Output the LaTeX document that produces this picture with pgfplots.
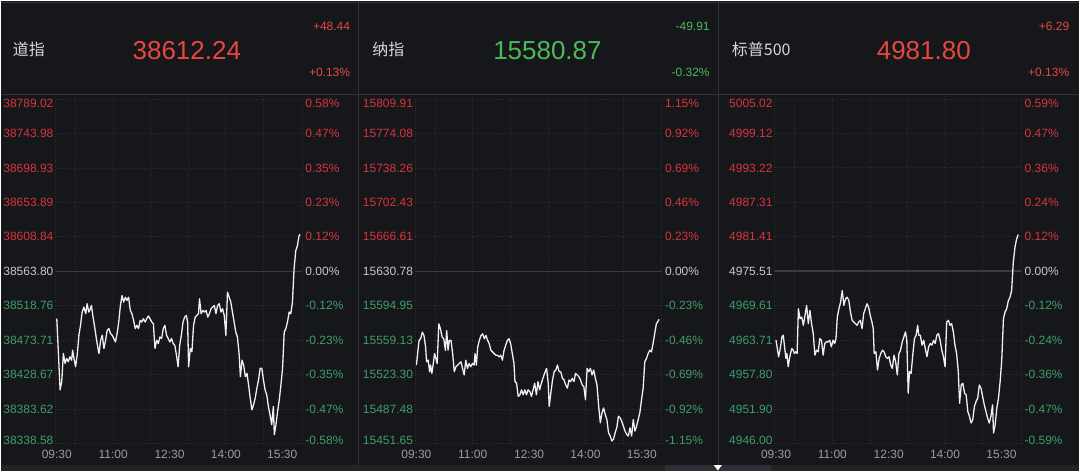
\documentclass[border=0pt]{standalone}
\usepackage{pgfplots}
\pgfplotsset{compat=1.18}
\usepackage{pgfplotstable}
\usepackage{fontspec}
\setmainfont{Liberation Sans}
\newfontfamily\cjk{Noto Sans CJK SC}

\definecolor{bg}{HTML}{16171B}
\definecolor{strip}{HTML}{222327}
\definecolor{stripblk}{HTML}{2E2F34}
\definecolor{sep}{HTML}{33343A}
\definecolor{gridc}{HTML}{2E2F35}
\definecolor{basec}{HTML}{3C3D42}
\definecolor{bigred}{HTML}{E8473F}
\definecolor{biggreen}{HTML}{4DBA5A}
\definecolor{tred}{HTML}{D8333F}
\definecolor{tgreen}{HTML}{3E9E68}
\definecolor{zlab}{HTML}{C8C8C8}
\definecolor{xlab}{HTML}{9C9C9C}
\definecolor{namec}{HTML}{D6D6D6}

\newcommand\G[1]{\textcolor{tgreen}{#1}}
\newcommand\R[1]{\textcolor{tred}{#1}}
\newcommand\Top[1]{\raisebox{-4.5pt}[\height][\depth]{#1}}
\newcommand\Bot[1]{\raisebox{3.5pt}[\height][\depth]{#1}}
\newcommand\lab{\fontsize{12}{14}\selectfont}

% minutes after 09:30, index value
\pgfplotstableread{
t v
0 38501.9
5.3 38408.8
7.9 38419.6
10.5 38456.4
13.2 38443.4
15.8 38449.9
18.4 38445.6
21.1 38452.1
23.7 38447.7
25.3 38460.7
27.4 38449.9
30.0 38439.1
32.6 38454.2
35.3 38480.2
37.9 38493.2
40.5 38510.5
43.2 38517.0
46.3 38508.4
48.4 38521.4
51.1 38510.5
53.7 38514.9
55.3 38519.2
57.9 38504.0
60.5 38491.0
63.2 38475.9
65.8 38462.9
67.4 38456.4
70.0 38473.7
72.6 38480.2
75.3 38462.9
77.9 38473.7
80.5 38486.7
83.2 38488.9
85.8 38482.4
88.4 38480.2
91.1 38475.9
93.7 38471.5
96.3 38482.4
98.9 38497.5
101.6 38519.2
104.2 38532.2
106.8 38523.5
109.5 38530.0
112.1 38525.7
114.7 38530.0
117.4 38512.7
120.0 38508.4
122.6 38499.7
125.3 38488.9
127.9 38493.2
130.5 38488.9
133.2 38499.7
135.8 38497.5
138.4 38501.9
141.1 38497.5
143.7 38501.9
146.3 38505.3
148.9 38501.9
151.6 38497.5
154.2 38495.4
156.8 38462.9
159.5 38473.7
162.1 38469.4
164.7 38478.0
167.4 38475.9
170.0 38488.9
172.6 38493.2
175.3 38480.2
177.9 38475.9
180.5 38471.5
183.2 38475.9
185.8 38469.4
188.4 38467.2
191.1 38454.2
193.7 38439.1
196.3 38467.2
198.9 38480.2
201.6 38497.5
204.2 38504.0
206.8 38506.2
208.9 38497.5
210.5 38439.1
213.2 38462.9
215.8 38458.6
218.4 38493.2
221.1 38504.0
223.7 38506.2
226.3 38508.4
227.9 38527.9
230.5 38508.4
233.2 38512.7
235.8 38510.5
238.4 38512.7
241.1 38504.0
243.7 38508.4
246.3 38514.9
248.9 38517.0
251.6 38519.2
254.2 38508.4
256.8 38519.2
259.5 38521.4
262.1 38510.5
264.7 38514.9
267.4 38506.2
270.0 38480.2
272.6 38536.5
275.3 38530.0
277.9 38523.5
280.5 38510.5
283.2 38497.5
285.8 38484.5
288.4 38478.0
291.1 38456.4
293.2 38426.1
295.8 38447.7
298.4 38441.2
301.1 38426.1
303.7 38430.4
306.3 38415.2
308.9 38397.9
311.6 38382.8
314.2 38389.3
316.8 38397.9
319.5 38410.9
322.1 38421.7
324.7 38436.9
327.4 38436.9
330.0 38421.7
332.6 38408.8
335.3 38402.3
337.9 38387.1
340.5 38376.3
343.2 38363.3
345.8 38387.1
347.4 38350.3
350.0 38363.3
352.6 38380.6
355.3 38395.8
357.9 38415.2
360.5 38436.9
363.2 38484.5
365.8 38488.9
368.4 38497.5
371.1 38510.5
373.7 38508.4
376.3 38523.5
378.9 38566.8
381.6 38590.7
384.2 38597.1
386.8 38610.1
388.5 38612.2
}\dow

\pgfplotstableread{
t v
0 15533.25
4.2 15558.97
6.8 15560.69
9.5 15567.54
12.1 15564.12
14.7 15552.11
16.3 15536.68
18.9 15538.40
21.1 15526.40
22.6 15533.25
24.7 15524.68
27.4 15536.68
28.9 15545.26
30.5 15541.83
33.2 15534.97
35.8 15576.12
38.4 15570.97
41.1 15562.40
43.7 15560.69
46.3 15548.68
48.4 15569.26
50.5 15548.68
52.6 15558.97
55.3 15558.97
57.9 15545.26
60.5 15526.40
63.2 15531.54
65.8 15533.25
68.4 15534.97
71.1 15536.68
73.7 15529.83
76.3 15522.97
78.9 15538.40
81.6 15529.83
84.2 15534.97
86.8 15531.54
89.5 15534.97
92.1 15533.25
93.7 15545.26
95.8 15533.25
97.9 15552.11
100.5 15558.97
103.2 15564.12
105.8 15565.83
108.4 15560.69
111.1 15564.12
113.7 15558.97
116.3 15555.54
118.9 15548.68
121.6 15546.97
124.2 15545.26
126.8 15543.54
129.5 15543.54
132.1 15541.83
134.7 15543.54
137.4 15538.40
140.0 15548.68
142.6 15553.83
145.3 15558.97
147.9 15560.69
150.5 15555.54
153.2 15545.26
155.8 15534.97
157.4 15516.11
160.0 15514.39
162.6 15500.68
165.3 15502.39
167.9 15507.54
170.5 15502.39
173.2 15507.54
175.8 15502.39
178.4 15507.54
181.1 15505.82
183.7 15500.68
186.3 15507.54
188.9 15514.39
191.6 15502.39
194.2 15516.11
196.8 15507.54
199.5 15514.39
202.1 15519.54
204.7 15524.68
207.9 15529.83
210.5 15514.39
212.1 15490.39
214.7 15504.11
217.4 15517.82
220.0 15526.40
222.6 15528.11
225.3 15533.25
227.9 15526.40
230.5 15526.40
233.2 15519.54
235.8 15517.82
238.4 15512.68
241.1 15509.25
243.7 15517.82
246.3 15516.11
248.9 15519.54
251.6 15516.11
254.2 15524.68
256.8 15522.97
259.5 15521.25
262.1 15517.82
264.7 15512.68
267.4 15510.97
270.0 15497.25
272.6 15529.83
275.3 15526.40
277.9 15529.83
280.5 15522.97
283.2 15528.11
285.8 15519.54
288.4 15512.68
291.1 15490.39
293.7 15473.25
296.3 15483.53
298.9 15488.68
301.6 15481.82
304.2 15476.68
306.8 15462.96
309.5 15459.53
312.1 15454.39
314.7 15456.10
317.4 15462.96
320.0 15468.10
322.6 15480.10
325.3 15478.39
327.9 15474.96
330.5 15469.82
333.2 15464.67
335.8 15461.25
338.4 15459.53
341.1 15468.10
343.7 15459.53
346.3 15476.68
348.9 15464.67
351.6 15469.82
354.2 15476.68
356.8 15483.53
359.5 15497.25
362.1 15509.25
364.7 15536.68
367.4 15540.11
370.0 15545.26
372.6 15548.68
375.3 15546.97
377.9 15555.54
380.5 15565.83
383.2 15576.12
385.8 15578.86
387.5 15580.87
}\nas

\pgfplotstableread{
t v
0 4963.71
4.2 4960.87
6.8 4962.29
9.5 4964.27
11.6 4964.56
13.7 4962.57
15.8 4960.59
17.4 4961.44
19.5 4959.17
21.1 4960.30
23.2 4961.44
25.3 4962.29
27.4 4962.00
29.5 4961.44
31.6 4961.72
33.7 4961.44
35.8 4969.10
38.4 4967.39
41.1 4967.68
43.7 4966.26
46.3 4967.96
48.9 4969.67
51.6 4966.54
54.2 4968.81
56.8 4966.54
59.5 4964.84
62.1 4961.15
64.7 4962.00
67.4 4961.72
70.0 4963.99
72.6 4963.71
75.3 4961.15
77.9 4963.14
80.5 4963.42
83.2 4963.42
85.8 4963.71
88.4 4962.57
91.1 4963.71
93.7 4963.14
95.8 4963.99
97.9 4967.68
100.5 4969.10
103.2 4970.23
105.8 4972.22
108.4 4969.67
111.1 4970.80
113.7 4971.08
116.3 4970.52
118.9 4968.53
121.6 4967.11
124.2 4966.83
126.8 4966.54
129.5 4966.26
132.1 4966.83
134.7 4967.11
137.4 4965.69
140.0 4968.25
142.6 4969.10
145.3 4969.95
147.9 4969.38
150.5 4967.96
153.2 4966.83
155.3 4965.69
156.8 4961.44
159.5 4961.72
162.1 4958.60
164.7 4960.59
167.4 4961.44
170.0 4962.00
172.6 4961.72
175.3 4960.87
177.9 4960.59
180.5 4960.87
183.2 4959.45
185.8 4958.88
188.4 4961.15
191.1 4960.02
193.7 4957.75
196.3 4961.44
198.9 4962.00
201.6 4963.42
204.2 4964.27
206.8 4965.13
208.9 4963.71
211.1 4954.63
213.2 4958.32
215.8 4958.03
218.4 4961.15
221.1 4963.99
223.7 4964.56
226.3 4966.26
227.9 4964.56
230.5 4964.56
233.2 4962.86
235.8 4963.71
238.4 4962.29
241.1 4960.87
243.7 4962.57
246.3 4963.14
248.9 4962.86
251.6 4963.71
254.2 4963.14
256.8 4964.56
259.5 4964.84
262.1 4963.71
264.7 4962.00
267.4 4960.87
270.0 4959.17
272.6 4966.83
275.3 4967.11
277.9 4966.26
280.5 4966.54
283.2 4965.13
285.8 4962.86
288.4 4961.44
291.1 4958.32
293.2 4952.92
295.8 4956.05
298.4 4956.33
301.1 4954.63
303.7 4954.34
306.3 4951.51
308.9 4950.66
311.6 4949.52
314.2 4950.09
316.8 4952.36
319.5 4953.21
322.1 4953.78
324.7 4956.05
327.4 4955.48
330.0 4954.06
332.6 4952.64
335.3 4951.51
337.9 4950.37
340.5 4949.52
343.2 4950.66
345.8 4952.64
347.4 4947.82
350.0 4949.24
352.6 4952.07
355.3 4953.78
357.9 4956.61
360.5 4960.30
363.2 4967.39
365.8 4968.53
368.4 4969.10
371.1 4970.52
373.7 4971.08
376.3 4972.22
378.9 4977.04
381.6 4979.60
384.2 4981.02
386.8 4981.80
}\spx

\pgfplotsset{
  base/.style={
    anchor=south west, scale only axis, width=247pt, height=345pt,
    xmin=-2, xmax=392,
    axis line style={draw=none},
    major tick length=0pt, minor tick length=0pt,
    scaled ticks=false,
    /pgf/number format/assume math mode=true,
  },
  leftax/.style={
    base,
    xtick={0,90,180,270,360},
    xticklabels={09:30,11:00,12:30,14:00,15:30},
    minor xtick={-2,30,90,150,210,270,330,392},
    xminorgrids=true, ymajorgrids=true,
    grid style={gridc, line width=0.8pt, dash pattern=on 1pt off 1.6pt},
    xticklabel style={font=\lab, text=xlab, inner sep=0pt, anchor=north, yshift=-6pt},
    yticklabel style={font=\lab, inner sep=0pt, anchor=east, xshift=-2pt},
    extra y tick style={ymajorgrids=true,
      major grid style={solid, basec, line width=1.6pt},
      yticklabel style={text=zlab}},
  },
  rightax/.style={
    base,
    xtick=\empty,
    yticklabel pos=right,
    yticklabel style={font=\lab, inner sep=0pt, anchor=west, xshift=3pt},
  },
  idx/.style={white!94!black, line width=1.3pt, line join=round},
}

\begin{document}
\begin{tikzpicture}[x=1pt,y=1pt]
\fill[bg] (0,0) rectangle (1080,471);
\fill[strip] (0,0) rectangle (1080,6);
\fill[stripblk] (665,0) rectangle (771,6);
\fill[white] (714,6) -- (722,6) -- (718,0.5) -- cycle;
\draw[sep, line width=1pt] (0,469.5) -- (1080,469.5);
\draw[sep, line width=1.2pt] (0,377) -- (1080,377);
\draw[sep, line width=1.2pt] (358.5,6) -- (358.5,471);
\draw[sep, line width=1.2pt] (718.5,6) -- (718.5,471);

% headers
\node[anchor=west, inner sep=0pt, text=namec, font=\cjk\fontsize{16}{18}\selectfont] at (12,422) {道指};
\node[anchor=west, inner sep=0pt, text=bigred, font=\fontsize{26}{29}\selectfont] at (132,421) {38612.24};
\node[anchor=east, inner sep=0pt, text=bigred, font=\lab] at (350,445) {+48.44};
\node[anchor=east, inner sep=0pt, text=bigred, font=\lab] at (350,399) {+0.13\%};

\node[anchor=west, inner sep=0pt, text=namec, font=\cjk\fontsize{16}{18}\selectfont] at (372,422) {纳指};
\node[anchor=west, inner sep=0pt, text=biggreen, font=\fontsize{26}{29}\selectfont] at (493,421) {15580.87};
\node[anchor=east, inner sep=0pt, text=biggreen, font=\lab] at (710,445) {-49.91};
\node[anchor=east, inner sep=0pt, text=biggreen, font=\lab] at (710,399) {-0.32\%};

\node[anchor=west, inner sep=0pt, text=namec, font=\cjk\fontsize{16}{18}\selectfont] at (732,422) {标普500};
\node[anchor=west, inner sep=0pt, text=bigred, font=\fontsize{26}{29}\selectfont] at (877,421) {4981.80};
\node[anchor=east, inner sep=0pt, text=bigred, font=\lab] at (1070,445) {+6.29};
\node[anchor=east, inner sep=0pt, text=bigred, font=\lab] at (1070,399) {+0.13\%};

% Dow
\begin{axis}[leftax, at={(55pt,27.5pt)},
  ymin=38338.58, ymax=38789.02,
  ytick={38338.58,38383.62,38428.67,38473.71,38518.76,38608.84,38653.89,38698.93,38743.98,38789.02},
  yticklabels={\Bot{\G{38338.58}},\G{38383.62},\G{38428.67},\G{38473.71},\G{38518.76},\R{38608.84},\R{38653.89},\R{38698.93},\R{38743.98},\Top{\R{38789.02}}},
  extra y ticks={38563.80}, extra y tick labels={38563.80}]
\addplot[idx] table[x=t, y=v] {\dow};
\end{axis}
\begin{axis}[rightax, at={(55pt,27.5pt)},
  ymin=38338.58, ymax=38789.02,
  ytick={38338.58,38383.62,38428.67,38473.71,38518.76,38563.80,38608.84,38653.89,38698.93,38743.98,38789.02},
  yticklabels={\Bot{\G{-0.58\%}},\G{-0.47\%},\G{-0.35\%},\G{-0.23\%},\G{-0.12\%},\textcolor{zlab}{0.00\%},\R{0.12\%},\R{0.23\%},\R{0.35\%},\R{0.47\%},\Top{\R{0.58\%}}}]
\end{axis}

% Nasdaq
\begin{axis}[leftax, at={(415pt,27.5pt)},
  ymin=15451.65, ymax=15809.91,
  ytick={15451.65,15487.48,15523.30,15559.13,15594.95,15666.61,15702.43,15738.26,15774.08,15809.91},
  yticklabels={\Bot{\G{15451.65}},\G{15487.48},\G{15523.30},\G{15559.13},\G{15594.95},\R{15666.61},\R{15702.43},\R{15738.26},\R{15774.08},\Top{\R{15809.91}}},
  extra y ticks={15630.78}, extra y tick labels={15630.78}]
\addplot[idx] table[x=t, y=v] {\nas};
\end{axis}
\begin{axis}[rightax, at={(415pt,27.5pt)},
  ymin=15451.65, ymax=15809.91,
  ytick={15451.65,15487.48,15523.30,15559.13,15594.95,15630.78,15666.61,15702.43,15738.26,15774.08,15809.91},
  yticklabels={\Bot{\G{-1.15\%}},\G{-0.92\%},\G{-0.69\%},\G{-0.46\%},\G{-0.23\%},\textcolor{zlab}{0.00\%},\R{0.23\%},\R{0.46\%},\R{0.69\%},\R{0.92\%},\Top{\R{1.15\%}}}]
\end{axis}

% S&P 500
\begin{axis}[leftax, at={(775pt,27.5pt)},
  ymin=4946.00, ymax=5005.02,
  ytick={4946.00,4951.90,4957.80,4963.71,4969.61,4981.41,4987.31,4993.22,4999.12,5005.02},
  yticklabels={\Bot{\G{4946.00}},\G{4951.90},\G{4957.80},\G{4963.71},\G{4969.61},\R{4981.41},\R{4987.31},\R{4993.22},\R{4999.12},\Top{\R{5005.02}}},
  extra y ticks={4975.51}, extra y tick labels={4975.51}]
\addplot[idx] table[x=t, y=v] {\spx};
\end{axis}
\begin{axis}[rightax, at={(775pt,27.5pt)},
  ymin=4946.00, ymax=5005.02,
  ytick={4946.00,4951.90,4957.80,4963.71,4969.61,4975.51,4981.41,4987.31,4993.22,4999.12,5005.02},
  yticklabels={\Bot{\G{-0.59\%}},\G{-0.47\%},\G{-0.36\%},\G{-0.24\%},\G{-0.12\%},\textcolor{zlab}{0.00\%},\R{0.12\%},\R{0.24\%},\R{0.36\%},\R{0.47\%},\Top{\R{0.59\%}}}]
\end{axis}
\end{tikzpicture}
\end{document}
